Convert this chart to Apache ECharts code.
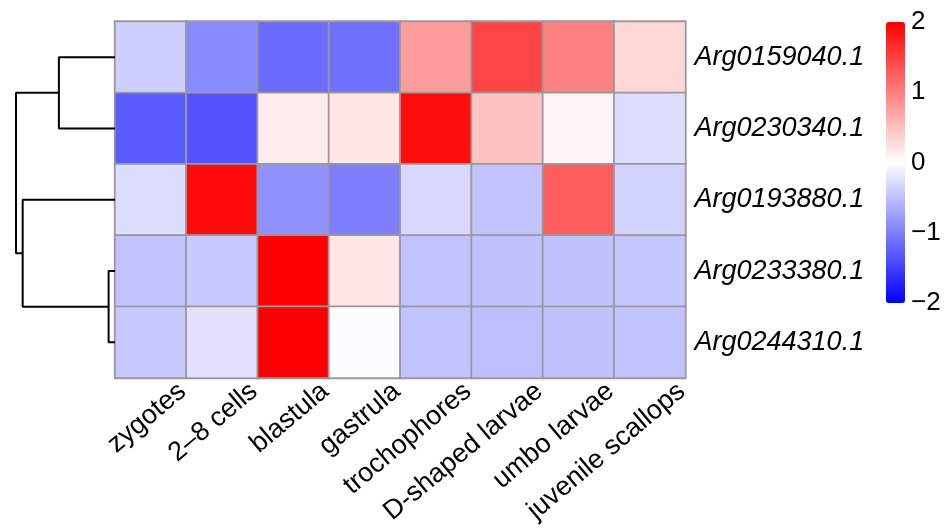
<!DOCTYPE html>
<html><head><meta charset="utf-8">
<script src="https://cdn.jsdelivr.net/npm/echarts@6/dist/echarts.min.js"></script>
<style>html,body{margin:0;padding:0;background:#fff}#c{width:945px;height:528px}</style>
</head><body><div id="c"></div>
<script>
const stages = ['zygotes','2–8 cells','blastula','gastrula','trochophores','D-shaped larvae','umbo larvae','juvenile scallops'];
const genes = ['Arg0159040.1','Arg0230340.1','Arg0193880.1','Arg0233380.1','Arg0244310.1'];
const arg0159040 = [-0.38,-0.92,-1.16,-1.12,0.78,1.46,0.98,0.31];
const arg0230340 = [-1.29,-1.36,0.16,0.20,1.90,0.49,0.08,-0.27];
const arg0193880 = [-0.27,1.92,-0.87,-1.01,-0.31,-0.48,1.26,-0.35];
const arg0233380 = [-0.48,-0.42,2.00,0.20,-0.48,-0.49,-0.49,-0.45];
const arg0244310 = [-0.43,-0.23,2.00,-0.02,-0.48,-0.50,-0.49,-0.48];
const legendTicks = [-2,-1,0,1,2];
// dendrogram merges: [childA, childB, height]; leaves 0..4 = rows; internal nodes numbered 5.. in order
const dendroMerges = [[3,4,0.45],[0,1,3.95],[2,5,6.5],[6,7,6.97]];

const rows = [arg0159040, arg0230340, arg0193880, arg0233380, arg0244310];
const heatData = [];
rows.forEach((vals, r) => vals.forEach((v, c) => heatData.push([c, r, v])));

const nodeY = [0,1,2,3,4], nodeH = [0,0,0,0,0];
const dendroSeries = [];
dendroMerges.forEach(([a, b, h]) => {
  dendroSeries.push({
    type: 'line', xAxisIndex: 1, yAxisIndex: 1, symbol: 'none', silent: true, animation: false,
    lineStyle: { color: '#000', width: 2 },
    data: [[nodeH[a], nodeY[a]], [h, nodeY[a]], [h, nodeY[b]], [nodeH[b], nodeY[b]]]
  });
  nodeY.push((nodeY[a] + nodeY[b]) / 2);
  nodeH.push(h);
});
const rootH = Math.max(...dendroMerges.map(m => m[2]));

const font = 'Liberation Sans';
const chart = echarts.init(document.getElementById('c'), null, { renderer: 'canvas' });
chart.setOption({
  animation: false,
  backgroundColor: '#fff',
  textStyle: { fontFamily: font },
  grid: [
    { left: 115, top: 21.5, width: 570.5, height: 356.5, containLabel: false },
    { left: 16, top: 21.5, width: 99, height: 356.5, containLabel: false },
    { left: 886, top: 22, width: 19, height: 281, containLabel: false },
    { left: 147, top: 21.5, width: 570.5, height: 356.5, containLabel: false }
  ],
  xAxis: [
    { type: 'category', gridIndex: 0, data: stages, axisLine: { show: false }, axisTick: { show: false }, splitLine: { show: false }, axisLabel: { show: false } },
    { type: 'value', gridIndex: 1, min: 0, max: rootH, inverse: true, show: false },
    { type: 'value', gridIndex: 2, min: 0, max: 1, show: false },
    { type: 'category', gridIndex: 3, data: stages, axisLine: { show: false }, axisTick: { show: false }, splitLine: { show: false },
      axisLabel: { rotate: 40, interval: 0, fontSize: 27, color: '#000', margin: 10, fontFamily: font } }
  ],
  yAxis: [
    { type: 'category', gridIndex: 0, data: genes, inverse: true, position: 'right', axisLine: { show: false }, axisTick: { show: false }, splitLine: { show: false },
      axisLabel: { fontSize: 27, fontStyle: 'italic', color: '#000', margin: 9, fontFamily: font } },
    { type: 'value', gridIndex: 1, min: -0.5, max: 4.5, inverse: true, show: false },
    { type: 'value', gridIndex: 2, min: -2, max: 2, interval: 1, position: 'right', axisLine: { show: false }, axisTick: { show: false }, splitLine: { show: false },
      axisLabel: { fontSize: 26, color: '#000', margin: 6, fontFamily: font, formatter: v => String(v).replace('-', '−') } },
    { type: 'value', gridIndex: 3, show: false }
  ],
  visualMap: {
    type: 'continuous', min: -2, max: 2, seriesIndex: 0, calculable: false, left: 886, top: 22, padding: 0,
    itemWidth: 19, itemHeight: 281, text: null, showLabel: false,
    inRange: { color: ['#0000FF', '#FFFFFF', '#FF0000'] }
  },
  series: [
    { type: 'heatmap', xAxisIndex: 0, yAxisIndex: 0, data: heatData, silent: true,
      itemStyle: { borderColor: '#999999', borderWidth: 1.8 }, emphasis: { disabled: true } },
    ...dendroSeries,
    { type: 'scatter', xAxisIndex: 2, yAxisIndex: 2, data: [], silent: true },
    { type: 'scatter', xAxisIndex: 3, yAxisIndex: 3, data: [], silent: true }
  ]
});
</script></body></html>
